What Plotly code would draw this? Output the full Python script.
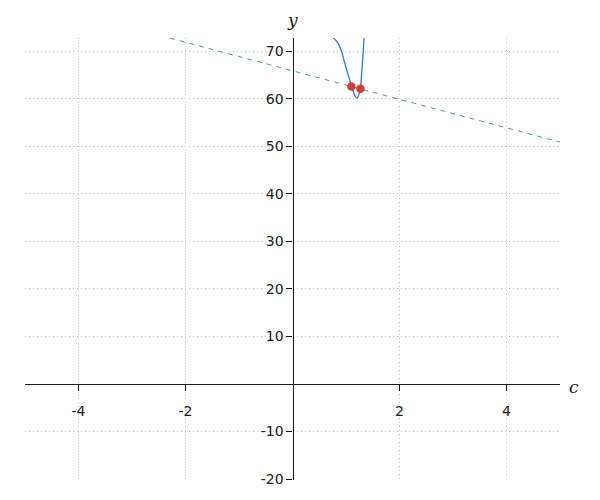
import plotly.graph_objects as go

# Curve samples
curve_c = [0.70, 0.76, 0.82, 0.87, 0.92, 0.96, 1.00, 1.05, 1.10, 1.14, 1.18, 1.21, 1.24, 1.27, 1.30, 1.32, 1.34]
curve_y = [74.2, 72.9, 72.2, 71.3, 69.9, 68.2, 66.6, 64.7, 62.8, 61.4, 60.4, 60.2, 60.9, 62.4, 66.4, 69.6, 73.6]

# Dashed line endpoints
line_c = [-5, 5]
line_y = [80.9, 50.9]

# Highlighted points
pts_c = [1.10, 1.27]
pts_y = [62.6, 62.1]

x_ticks = [-4, -2, 2, 4]
x_text = ["-4", "-2", "2", "4"]
y_ticks = [-20, -10, 10, 20, 30, 40, 50, 60, 70]
y_text = ["-20", "-10", "10", "20", "30", "40", "50", "60", "70"]

x_range = [-5, 5]
y_range = [-20.2, 72.8]

fig = go.Figure()
fig.add_trace(go.Scatter(x=line_c, y=line_y, mode="lines",
                         line=dict(color="rgb(76,170,90)", width=1, dash="5px,5px"),
                         hoverinfo="skip"))
fig.add_trace(go.Scatter(x=curve_c, y=curve_y, mode="lines",
                         line=dict(color="rgb(55,120,200)", width=1.3, shape="spline"),
                         hoverinfo="skip"))
fig.add_trace(go.Scatter(x=pts_c, y=pts_y, mode="markers",
                         marker=dict(color="rgb(210,60,55)", size=8.5),
                         hoverinfo="skip"))

xpos = (0 - y_range[0]) / (y_range[1] - y_range[0])
ypos = (0 - x_range[0]) / (x_range[1] - x_range[0])

grid = dict(showgrid=True, gridcolor="#c4c4c4", griddash="1px,3px", gridwidth=1)

fig.update_layout(
    width=600, height=500,
    margin=dict(l=17, r=48, t=30, b=28),
    paper_bgcolor="white", plot_bgcolor="white",
    showlegend=False,
    font=dict(family="DejaVu Sans", size=14, color="#1a1a1a"),
    xaxis=dict(range=x_range, anchor="free", position=xpos,
               tickvals=x_ticks, ticktext=x_text,
               ticks="outside", ticklen=6, tickcolor="#1a1a1a",
               ticklabelstandoff=8,
               showline=True, linecolor="#1a1a1a", linewidth=1.1,
               zeroline=False, fixedrange=True, **grid),
    yaxis=dict(range=y_range, anchor="free", position=ypos,
               tickvals=y_ticks, ticktext=y_text,
               ticks="outside", ticklen=6, tickcolor="#1a1a1a",
               showline=True, linecolor="#1a1a1a", linewidth=1.1,
               zeroline=False, fixedrange=True, **grid),
    annotations=[
        dict(text="<i>y</i>", xref="x", yref="paper", x=0, y=1, yshift=18,
             xanchor="center", yanchor="middle",
             showarrow=False, font=dict(family="DejaVu Serif", size=17, color="#1a1a1a")),
        dict(text="<i>c</i>", xref="paper", yref="y", x=1, y=0, xshift=14, yshift=-3,
             xanchor="center", yanchor="middle",
             showarrow=False, font=dict(family="DejaVu Serif", size=17, color="#1a1a1a")),
    ],
)

fig.write_html("out.html")
